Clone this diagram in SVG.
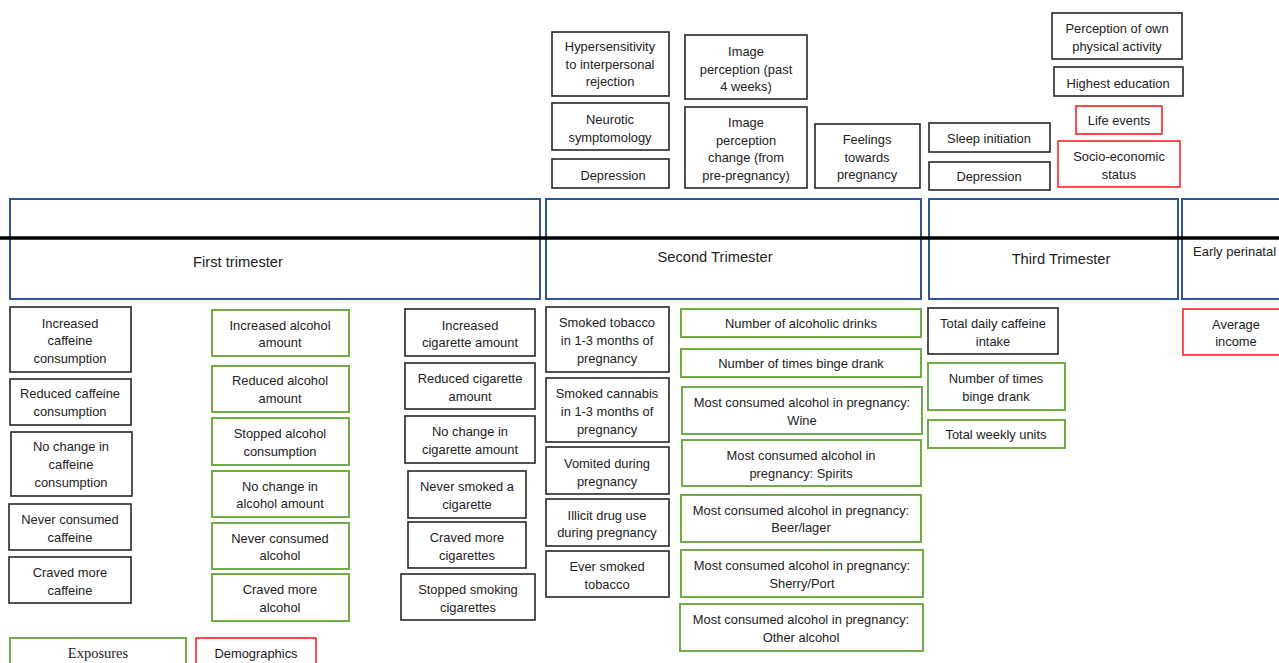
<svg xmlns="http://www.w3.org/2000/svg" width="1279" height="663" viewBox="0 0 1279 663">
<style>
.bk{fill:#fff;stroke:#262626;stroke-width:1.6}
.gr{fill:#fff;stroke:#70ad47;stroke-width:2}
.rd{fill:#fff;stroke:#ff0000;stroke-width:1.4}
.bl{fill:none;stroke:#2f5597;stroke-width:2}
text{font-family:"Liberation Sans",Arial,sans-serif;font-size:12.9px;fill:#222;text-anchor:middle;dominant-baseline:central}
.h{font-size:14.7px}
.serif{font-family:"Liberation Serif","Times New Roman",serif;font-size:14.5px}
</style>
<rect width="1279" height="663" fill="#fff"/>
<g id="timeline">
<rect class="bl" x="10" y="199" width="530" height="100"/>
<rect class="bl" x="546" y="199" width="375" height="100"/>
<rect class="bl" x="929" y="199" width="249" height="100"/>
<rect class="bl" x="1182" y="199" width="110" height="100"/>
<line x1="0" y1="238" x2="1279" y2="238" stroke="#000" stroke-width="3.5"/>
<text class="h" x="238" y="262">First trimester</text>
<text class="h" x="715" y="257">Second Trimester</text>
<text class="h" x="1061" y="259">Third Trimester</text>
<text x="1193" y="251" style="text-anchor:start;font-size:13px">Early perinatal</text>
</g>
<g id="n-hyper"><rect class="bk" x="552" y="32" width="117" height="64"/><text x="610"><tspan x="610" y="46">Hypersensitivity</tspan><tspan x="610" y="64">to interpersonal</tspan><tspan x="610" y="81">rejection</tspan></text></g>
<g id="n-neurotic"><rect class="bk" x="552" y="103" width="117" height="47"/><text><tspan x="610" y="119">Neurotic</tspan><tspan x="610" y="137">symptomology</tspan></text></g>
<g id="n-dep2"><rect class="bk" x="552" y="159" width="117" height="29"/><text x="613" y="175">Depression</text></g>
<g id="n-img"><rect class="bk" x="685" y="35" width="122" height="64"/><text><tspan x="746" y="51">Image</tspan><tspan x="746" y="69">perception (past</tspan><tspan x="746" y="86">4 weeks)</tspan></text></g>
<g id="n-imgchg"><rect class="bk" x="685" y="107" width="122" height="81"/><text><tspan x="746" y="122">Image</tspan><tspan x="746" y="140">perception</tspan><tspan x="746" y="157">change (from</tspan><tspan x="746" y="175">pre-pregnancy)</tspan></text></g>
<g id="n-feel"><rect class="bk" x="815" y="124" width="105" height="64"/><text><tspan x="867" y="139">Feelings</tspan><tspan x="867" y="157">towards</tspan><tspan x="867" y="174">pregnancy</tspan></text></g>
<g id="n-sleep"><rect class="bk" x="929" y="123" width="121" height="29"/><text x="989" y="138">Sleep initiation</text></g>
<g id="n-dep3"><rect class="bk" x="929" y="162" width="121" height="28"/><text x="989" y="176">Depression</text></g>
<g id="n-phys"><rect class="bk" x="1052" y="13" width="130" height="46"/><text><tspan x="1117" y="28">Perception of own</tspan><tspan x="1117" y="46">physical activity</tspan></text></g>
<g id="n-edu"><rect class="bk" x="1054" y="67" width="129" height="29"/><text x="1118" y="83">Highest education</text></g>
<g id="n-life"><rect class="rd" x="1076" y="106" width="86" height="28"/><text x="1119" y="120">Life events</text></g>
<g id="n-ses"><rect class="rd" x="1058" y="141" width="122" height="46"/><text><tspan x="1119" y="156">Socio-economic</tspan><tspan x="1119" y="174">status</tspan></text></g>

<g id="n-caf1"><rect class="bk" x="10" y="307" width="121" height="65"/><text><tspan x="70" y="323">Increased</tspan><tspan x="70" y="340">caffeine</tspan><tspan x="70" y="358">consumption</tspan></text></g>
<g id="n-caf2"><rect class="bk" x="10" y="379" width="121" height="46"/><text><tspan x="70" y="393">Reduced caffeine</tspan><tspan x="70" y="411">consumption</tspan></text></g>
<g id="n-caf3"><rect class="bk" x="11" y="432" width="121" height="64"/><text><tspan x="71" y="446">No change in</tspan><tspan x="71" y="464">caffeine</tspan><tspan x="71" y="482">consumption</tspan></text></g>
<g id="n-caf4"><rect class="bk" x="9" y="504" width="122" height="46"/><text><tspan x="70" y="519">Never consumed</tspan><tspan x="70" y="537">caffeine</tspan></text></g>
<g id="n-caf5"><rect class="bk" x="9" y="557" width="122" height="46"/><text><tspan x="70" y="572">Craved more</tspan><tspan x="70" y="590">caffeine</tspan></text></g>

<g id="n-alc1"><rect class="gr" x="212" y="310" width="137" height="46"/><text><tspan x="280" y="325">Increased alcohol</tspan><tspan x="280" y="342">amount</tspan></text></g>
<g id="n-alc2"><rect class="gr" x="212" y="366" width="137" height="46"/><text><tspan x="280" y="380">Reduced alcohol</tspan><tspan x="280" y="398">amount</tspan></text></g>
<g id="n-alc3"><rect class="gr" x="212" y="418" width="137" height="47"/><text><tspan x="280" y="433">Stopped alcohol</tspan><tspan x="280" y="451">consumption</tspan></text></g>
<g id="n-alc4"><rect class="gr" x="212" y="471" width="137" height="46"/><text><tspan x="280" y="486">No change in</tspan><tspan x="280" y="503">alcohol amount</tspan></text></g>
<g id="n-alc5"><rect class="gr" x="212" y="523" width="137" height="46"/><text><tspan x="280" y="538">Never consumed</tspan><tspan x="280" y="555">alcohol</tspan></text></g>
<g id="n-alc6"><rect class="gr" x="212" y="574" width="137" height="47"/><text><tspan x="280" y="589">Craved more</tspan><tspan x="280" y="607">alcohol</tspan></text></g>

<g id="n-cig1"><rect class="bk" x="405" y="309" width="130" height="47"/><text><tspan x="470" y="325">Increased</tspan><tspan x="470" y="342">cigarette amount</tspan></text></g>
<g id="n-cig2"><rect class="bk" x="405" y="363" width="130" height="46"/><text><tspan x="470" y="378">Reduced cigarette</tspan><tspan x="470" y="396">amount</tspan></text></g>
<g id="n-cig3"><rect class="bk" x="405" y="416" width="130" height="47"/><text><tspan x="470" y="431">No change in</tspan><tspan x="470" y="449">cigarette amount</tspan></text></g>
<g id="n-cig4"><rect class="bk" x="408" y="471" width="118" height="47"/><text><tspan x="467" y="486">Never smoked a</tspan><tspan x="467" y="504">cigarette</tspan></text></g>
<g id="n-cig5"><rect class="bk" x="408" y="522" width="118" height="46"/><text><tspan x="467" y="537">Craved more</tspan><tspan x="467" y="555">cigarettes</tspan></text></g>
<g id="n-cig6"><rect class="bk" x="401" y="574" width="134" height="46"/><text><tspan x="468" y="589">Stopped smoking</tspan><tspan x="468" y="607">cigarettes</tspan></text></g>

<g id="n-tob"><rect class="bk" x="546" y="307" width="123" height="65"/><text><tspan x="607" y="322">Smoked tobacco</tspan><tspan x="607" y="340">in 1-3 months of</tspan><tspan x="607" y="358">pregnancy</tspan></text></g>
<g id="n-can"><rect class="bk" x="546" y="378" width="123" height="64"/><text><tspan x="607" y="393">Smoked cannabis</tspan><tspan x="607" y="411">in 1-3 months of</tspan><tspan x="607" y="429">pregnancy</tspan></text></g>
<g id="n-vom"><rect class="bk" x="546" y="447" width="123" height="47"/><text><tspan x="607" y="463">Vomited during</tspan><tspan x="607" y="481">pregnancy</tspan></text></g>
<g id="n-ill"><rect class="bk" x="546" y="499" width="123" height="47"/><text><tspan x="607" y="515">Illicit drug use</tspan><tspan x="607" y="532">during pregnancy</tspan></text></g>
<g id="n-ever"><rect class="bk" x="546" y="551" width="123" height="46"/><text><tspan x="607" y="566">Ever smoked</tspan><tspan x="607" y="584">tobacco</tspan></text></g>

<g id="n-ndr"><rect class="gr" x="681" y="309" width="240" height="28"/><text x="801" y="323">Number of alcoholic drinks</text></g>
<g id="n-binge2"><rect class="gr" x="681" y="349" width="240" height="28"/><text x="801" y="363">Number of times binge drank</text></g>
<g id="n-wine"><rect class="gr" x="682" y="387" width="240" height="47"/><text><tspan x="802" y="402">Most consumed alcohol in pregnancy:</tspan><tspan x="802" y="420">Wine</tspan></text></g>
<g id="n-spir"><rect class="gr" x="682" y="440" width="239" height="46"/><text><tspan x="801" y="455">Most consumed alcohol in</tspan><tspan x="801" y="473">pregnancy: Spirits</tspan></text></g>
<g id="n-beer"><rect class="gr" x="681" y="495" width="240" height="47"/><text><tspan x="801" y="510">Most consumed alcohol in pregnancy:</tspan><tspan x="801" y="527">Beer/lager</tspan></text></g>
<g id="n-sher"><rect class="gr" x="681" y="550" width="242" height="47"/><text><tspan x="802" y="565">Most consumed alcohol in pregnancy:</tspan><tspan x="802" y="583">Sherry/Port</tspan></text></g>
<g id="n-oth"><rect class="gr" x="680" y="604" width="243" height="47"/><text><tspan x="801" y="619">Most consumed alcohol in pregnancy:</tspan><tspan x="801" y="637">Other alcohol</tspan></text></g>

<g id="n-tdc"><rect class="bk" x="928" y="308" width="130" height="46"/><text><tspan x="993" y="323">Total daily caffeine</tspan><tspan x="993" y="341">intake</tspan></text></g>
<g id="n-binge3"><rect class="gr" x="928" y="363" width="137" height="47"/><text><tspan x="996" y="378">Number of times</tspan><tspan x="996" y="396">binge drank</tspan></text></g>
<g id="n-twu"><rect class="gr" x="928" y="420" width="137" height="28"/><text x="996" y="434">Total weekly units</text></g>

<g id="n-inc"><rect class="rd" x="1183" y="309" width="110" height="46"/><text><tspan x="1236" y="324">Average</tspan><tspan x="1236" y="341">income</tspan></text></g>

<g id="legend-exp"><rect class="gr" x="10" y="638" width="176" height="40"/><text class="serif" x="98" y="653">Exposures</text></g>
<g id="legend-dem"><rect class="rd" x="196" y="638" width="120" height="40"/><text x="256" y="653">Demographics</text></g>
<g id="connectors"></g>
</svg>
